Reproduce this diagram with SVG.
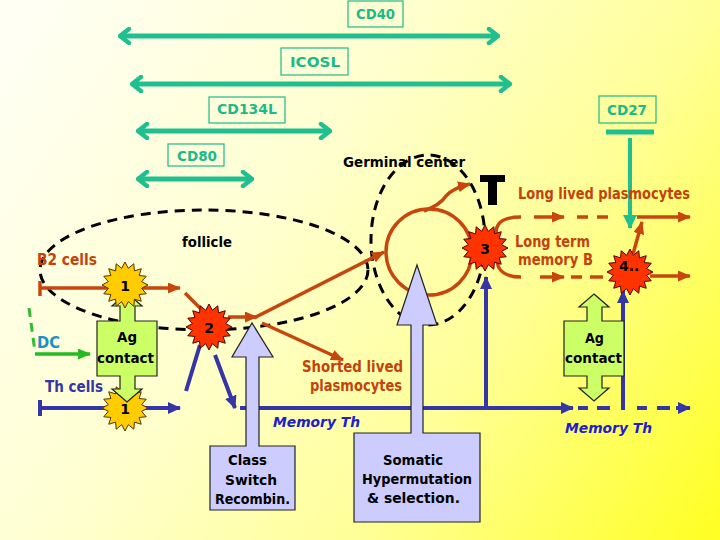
<svg xmlns="http://www.w3.org/2000/svg" xmlns:xlink="http://www.w3.org/1999/xlink" width="720" height="540" viewBox="0 0 720 540">
<defs>
<linearGradient id="bg" gradientUnits="userSpaceOnUse" x1="0" y1="60" x2="720" y2="540">
<stop offset="0" stop-color="#FFFFF4"/>
<stop offset="0.35" stop-color="#FFFFD2"/>
<stop offset="0.65" stop-color="#FFFF98"/>
<stop offset="1" stop-color="#FFFF22"/>
</linearGradient>
<polygon id="star" points="23,0 16.67,3.32 21.25,8.8 14.14,9.45 16.26,16.26 9.45,14.14 8.8,21.25 3.32,16.67 0,23 -3.32,16.67 -8.8,21.25 -9.45,14.14 -16.26,16.26 -14.14,9.45 -21.25,8.8 -16.67,3.32 -23,0 -16.67,-3.32 -21.25,-8.8 -14.14,-9.45 -16.26,-16.26 -9.45,-14.14 -8.8,-21.25 -3.32,-16.67 0,-23 3.32,-16.67 8.8,-21.25 9.45,-14.14 16.26,-16.26 14.14,-9.45 21.25,-8.8 16.67,-3.32"/>
<marker id="chev" viewBox="0 0 14 18" refX="12" refY="9" markerWidth="14" markerHeight="18" markerUnits="userSpaceOnUse" orient="auto-start-reverse">
<path d="M3,2 L12,9 L3,16" fill="none" stroke="#1FBF8F" stroke-width="4.5" stroke-linecap="round" stroke-linejoin="round"/>
</marker>
<marker id="ahT" viewBox="0 0 14 14" refX="13" refY="7" markerWidth="14" markerHeight="14" markerUnits="userSpaceOnUse" orient="auto">
<path d="M0,0 L14,7 L0,14 Z" fill="#1FBF8F"/>
</marker>
<marker id="ahR" viewBox="0 0 13 11" refX="12" refY="5.5" markerWidth="13" markerHeight="11" markerUnits="userSpaceOnUse" orient="auto">
<path d="M0,0 L13,5.5 L0,11 Z" fill="#C8460E"/>
</marker>
<marker id="ahB" viewBox="0 0 13 12" refX="12" refY="6" markerWidth="13" markerHeight="12" markerUnits="userSpaceOnUse" orient="auto">
<path d="M0,0 L13,6 L0,12 Z" fill="#3535A8"/>
</marker>
<marker id="ahG" viewBox="0 0 13 11" refX="12" refY="5.5" markerWidth="13" markerHeight="11" markerUnits="userSpaceOnUse" orient="auto">
<path d="M0,0 L13,5.5 L0,11 Z" fill="#22BB22"/>
</marker>
</defs>
<style>
.t{font-family:"DejaVu Sans","Liberation Sans",sans-serif;font-weight:bold;}
.teal{fill:#1DB98A;font-size:14px;}
.box{fill:none;stroke:#1DB98A;stroke-width:1.2;}
.tl{stroke:#1FBF8F;stroke-width:5;fill:none;}
.br{stroke:#C8460E;stroke-width:3.5;fill:none;}
.brt{fill:#C4420C;font-size:15px;}
.bl{stroke:#3535A8;stroke-width:4;fill:none;}
.blt{fill:#2020C8;font-size:14px;font-style:italic;}
.blk{fill:#000;font-size:14px;}
.dash{stroke:#000;stroke-width:3;fill:none;stroke-dasharray:10 7;}
.lav{fill:#CCCCFF;stroke:#222;stroke-width:1.2;}
.grn{fill:#CCFF66;stroke:#222;stroke-width:1.2;}
.sy{fill:#FFCC00;stroke:#553300;stroke-width:1;}
.sr{fill:#FF3300;stroke:#550000;stroke-width:1;}
</style>
<rect x="0" y="0" width="720" height="540" fill="url(#bg)"/>

<g id="regions">
<ellipse cx="204" cy="270" rx="164" ry="60" class="dash"/>
<ellipse cx="428" cy="240" rx="57" ry="85" class="dash"/>
</g>

<g id="connectors">
<line x1="120" y1="36" x2="498" y2="36" class="tl" marker-start="url(#chev)" marker-end="url(#chev)"/>
<line x1="132" y1="84" x2="510" y2="84" class="tl" marker-start="url(#chev)" marker-end="url(#chev)"/>
<line x1="138" y1="131" x2="330" y2="131" class="tl" marker-start="url(#chev)" marker-end="url(#chev)"/>
<line x1="138" y1="179" x2="252" y2="179" class="tl" marker-start="url(#chev)" marker-end="url(#chev)"/>
<line x1="606" y1="132" x2="654" y2="132" class="tl"/>
<line x1="630" y1="138" x2="630" y2="228" stroke="#1FBF8F" stroke-width="4" marker-end="url(#ahT)"/>

<line x1="40" y1="281" x2="40" y2="296" class="br"/>
<line x1="40" y1="288" x2="180" y2="288" class="br" marker-end="url(#ahR)"/>
<line x1="185" y1="293" x2="202" y2="310" class="br"/>
<line x1="228" y1="317" x2="257" y2="317" class="br" marker-end="url(#ahR)"/>
<line x1="254" y1="318" x2="384" y2="252" class="br" marker-end="url(#ahR)"/>
<line x1="262" y1="323" x2="343" y2="360" class="br" marker-end="url(#ahR)"/>
<circle cx="429" cy="252" r="43" class="br"/>
<path d="M424,211 Q440,205 446,196 Q453,188 470,184" class="br" marker-end="url(#ahR)"/>
<path d="M496,233 C496,221 505,217 521,217" class="br"/>
<line x1="534" y1="217" x2="564" y2="217" class="br" marker-end="url(#ahR)"/>
<line x1="577" y1="217" x2="588" y2="217" class="br"/>
<line x1="597" y1="217" x2="608" y2="217" class="br"/>
<line x1="637" y1="217" x2="690" y2="217" class="br" marker-end="url(#ahR)"/>
<path d="M497,262 C499,273 507,277 521,277" class="br"/>
<line x1="540" y1="277" x2="564" y2="277" class="br" marker-end="url(#ahR)"/>
<line x1="571" y1="277" x2="582" y2="277" class="br"/>
<line x1="590" y1="277" x2="603" y2="277" class="br"/>
<line x1="650" y1="276" x2="690" y2="276" class="br" marker-end="url(#ahR)"/>
<line x1="633" y1="254" x2="642" y2="222" class="br" marker-end="url(#ahR)"/>

<line x1="40" y1="400" x2="40" y2="416" class="bl"/>
<line x1="40" y1="408" x2="180" y2="408" class="bl" marker-end="url(#ahB)"/>
<line x1="200" y1="345" x2="186" y2="391" class="bl"/>
<line x1="215" y1="355" x2="235" y2="408" class="bl" marker-end="url(#ahB)"/>
<line x1="240" y1="408" x2="573" y2="408" class="bl" marker-end="url(#ahB)"/>
<line x1="486" y1="408" x2="486" y2="277" class="bl" marker-end="url(#ahB)"/>
<line x1="578" y1="408" x2="588" y2="408" class="bl"/>
<line x1="597" y1="408" x2="610" y2="408" class="bl"/>
<line x1="623" y1="410" x2="623" y2="291" class="bl" marker-end="url(#ahB)"/>
<line x1="637" y1="408" x2="647" y2="408" class="bl"/>
<line x1="657" y1="408" x2="670" y2="408" class="bl"/>
<line x1="676" y1="408" x2="690" y2="408" class="bl" marker-end="url(#ahB)"/>

<path d="M29,308 L35,352" stroke="#33BB33" stroke-width="3" stroke-dasharray="9 6" fill="none"/>
<line x1="35" y1="354" x2="90" y2="354" stroke="#22BB22" stroke-width="3.5" marker-end="url(#ahG)"/>
</g>

<g id="cd40"><rect x="348" y="1" width="55" height="26" class="box"/><text x="356" y="19" class="t teal" textLength="39" lengthAdjust="spacingAndGlyphs">CD40</text></g>
<g id="icosl"><rect x="281" y="48" width="67" height="27" class="box"/><text x="290" y="67" class="t teal" textLength="50" lengthAdjust="spacingAndGlyphs">ICOSL</text></g>
<g id="cd134l"><rect x="209" y="97" width="76" height="26" class="box"/><text x="217" y="114" class="t teal" textLength="60" lengthAdjust="spacingAndGlyphs">CD134L</text></g>
<g id="cd80"><rect x="168" y="144" width="56" height="22" class="box"/><text x="177" y="161" class="t teal" textLength="40" lengthAdjust="spacingAndGlyphs">CD80</text></g>
<g id="cd27"><rect x="599" y="96" width="57" height="27" class="box"/><text x="607" y="115" class="t teal" textLength="40" lengthAdjust="spacingAndGlyphs">CD27</text></g>

<g id="class-switch">
<path d="M210,446 H246 V357 H232 L252,323 L273,357 H259 V446 H295 V510 H210 Z" class="lav"/>
<text x="228" y="465" class="t blk" textLength="39" lengthAdjust="spacingAndGlyphs">Class</text>
<text x="225" y="485" class="t blk" textLength="52" lengthAdjust="spacingAndGlyphs">Switch</text>
<text x="215" y="504" class="t blk" textLength="75" lengthAdjust="spacingAndGlyphs">Recombin.</text>
</g>
<g id="somatic">
<path d="M354,433 H411 V325 H397 L417,265 L437,325 H423 V433 H480 V522 H354 Z" class="lav"/>
<text x="383" y="465" class="t blk" textLength="60" lengthAdjust="spacingAndGlyphs">Somatic</text>
<text x="362" y="484" class="t blk" textLength="110" lengthAdjust="spacingAndGlyphs">Hypermutation</text>
<text x="367" y="503" class="t blk" textLength="93" lengthAdjust="spacingAndGlyphs">&amp; selection.</text>
</g>

<g id="star1b"><use xlink:href="#star" href="#star" x="125" y="408" class="sy"/><text x="125" y="414" class="t blk" text-anchor="middle" font-size="15">1</text></g>
<g id="ag-left">
<path d="M127,293 L142,306 H135 V321 H157 V376 H135 V389 H142 L127,402 L112,389 H120 V376 H97 V321 H120 V306 H112 Z" class="grn"/>
<text x="117" y="342" class="t blk" textLength="20" lengthAdjust="spacingAndGlyphs">Ag</text>
<text x="97" y="363" class="t blk" textLength="57" lengthAdjust="spacingAndGlyphs">contact</text>
</g>
<g id="star1a"><use xlink:href="#star" href="#star" x="125" y="285" class="sy"/><text x="125" y="291" class="t blk" text-anchor="middle" font-size="15">1</text></g>
<g id="star2"><use xlink:href="#star" href="#star" x="209" y="327" class="sr"/><text x="209" y="333" class="t blk" text-anchor="middle" font-size="15">2</text></g>
<g id="star3"><use xlink:href="#star" href="#star" x="485" y="248" class="sr"/><text x="485" y="254" class="t blk" text-anchor="middle" font-size="15">3</text></g>
<g id="ag-right">
<path d="M594,294 L609,307 H602 V321 H624 V376 H602 V388 H609 L594,401 L579,388 H587 V376 H564 V321 H587 V307 H579 Z" class="grn"/>
<text x="585" y="343" class="t blk" textLength="19" lengthAdjust="spacingAndGlyphs">Ag</text>
<text x="565" y="363" class="t blk" textLength="57" lengthAdjust="spacingAndGlyphs">contact</text>
</g>
<g id="star4"><use xlink:href="#star" href="#star" x="630" y="272" class="sr"/><text x="619" y="271" class="t blk" font-size="15">4..</text></g>

<g id="death"><rect x="488" y="175" width="9" height="30" fill="#000"/><rect x="480" y="175" width="25" height="7" fill="#000"/></g>

<g id="labels">
<text x="343" y="167" class="t blk" textLength="122" lengthAdjust="spacingAndGlyphs">Germinal center</text>
<text x="182" y="247" class="t blk" font-size="15" textLength="50" lengthAdjust="spacingAndGlyphs">follicle</text>
<text x="518" y="199" class="t brt" textLength="172" lengthAdjust="spacingAndGlyphs">Long lived plasmocytes</text>
<text x="515" y="247" class="t brt" textLength="75" lengthAdjust="spacingAndGlyphs">Long term</text>
<text x="518" y="265" class="t brt" textLength="75" lengthAdjust="spacingAndGlyphs">memory B</text>
<text x="37" y="265" class="t brt" textLength="60" lengthAdjust="spacingAndGlyphs">B2 cells</text>
<text x="37" y="348" class="t" fill="#1E90C8" font-size="15" textLength="23" lengthAdjust="spacingAndGlyphs">DC</text>
<text x="45" y="392" class="t" fill="#3535A8" font-size="15" textLength="58" lengthAdjust="spacingAndGlyphs">Th cells</text>
<text x="302" y="372" class="t brt" textLength="101" lengthAdjust="spacingAndGlyphs">Shorted lived</text>
<text x="310" y="391" class="t brt" textLength="92" lengthAdjust="spacingAndGlyphs">plasmocytes</text>
<text x="273" y="427" class="t blt" textLength="87" lengthAdjust="spacingAndGlyphs">Memory Th</text>
<text x="565" y="433" class="t blt" textLength="87" lengthAdjust="spacingAndGlyphs">Memory Th</text>
</g>
</svg>
